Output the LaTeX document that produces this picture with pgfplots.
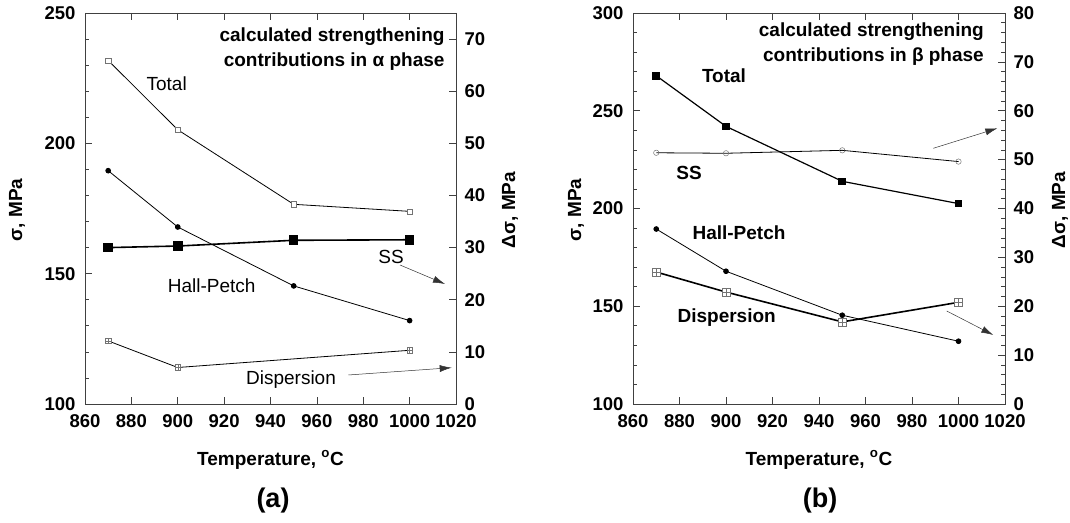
\documentclass[border=0pt]{standalone}
\usepackage{fontspec}
\setmainfont{Liberation Sans}
\usepackage{pgfplots}
\pgfplotsset{compat=1.18}
\usetikzlibrary{arrows.meta}
\pgfdeclareplotmark{boxplus}{%
  \pgfpathrectangle{\pgfqpoint{-\pgfplotmarksize}{-\pgfplotmarksize}}{\pgfqpoint{2\pgfplotmarksize}{2\pgfplotmarksize}}%
  \pgfusepathqfillstroke
  \pgfpathmoveto{\pgfqpoint{-\pgfplotmarksize}{0pt}}\pgfpathlineto{\pgfqpoint{\pgfplotmarksize}{0pt}}%
  \pgfpathmoveto{\pgfqpoint{0pt}{-\pgfplotmarksize}}\pgfpathlineto{\pgfqpoint{0pt}{\pgfplotmarksize}}%
  \pgfusepathqstroke}
\newcommand{\tfont}{\bfseries\fontsize{18.5bp}{18.5bp}\selectfont}
\newcommand{\lfont}{\fontsize{19bp}{25bp}\selectfont}
\pgfplotsset{
  base/.style={
    scale only axis, width=371bp, height=391bp,
    xmin=860, xmax=1020,
    xtick={860,880,...,1020},
    tick align=inside,
    major tick length=7bp, minor tick length=4bp,
    tick style={black!75, line width=0.6bp},
    axis line style={black!75, line width=0.8bp},
    /pgf/number format/assume math mode=true,
    /pgf/number format/1000 sep={},
    tick label style={font=\tfont},
    xticklabel style={yshift=-7bp},
    clip=false,
  },
  leftax/.style={yticklabel style={xshift=-6bp}},
  rightax/.style={yticklabel style={xshift=5bp}},
  openmk/.style={mark options={draw=black!55, fill=white, line width=0.5bp}},
}
\begin{document}
\begin{tikzpicture}[x=1bp,y=1bp]
\useasboundingbox (0,0) rectangle (1070,523);
% ---------------- panel (a) ----------------
\begin{axis}[base, leftax, at={(85bp,119bp)}, anchor=south west,
  ymin=100, ymax=250, ytick={100,150,200,250}, minor y tick num=4,
  ytick pos=left, xtick pos=both]
\addplot[black, line width=0.8bp, mark=square*, mark size=2.6bp, openmk] coordinates {(870,231.8) (900,205.2) (950,176.6) (1000,173.9)};
\addplot[black, line width=0.8bp, mark=*, mark size=2.4bp] coordinates {(870,189.5) (900,167.9) (950,145.3) (1000,132.0)};
\end{axis}
\begin{axis}[base, rightax, at={(85bp,119bp)}, anchor=south west,
  ymin=0, ymax=75, ytick={0,10,...,70},
  axis y line*=right, axis x line=none]
\addplot[black, line width=1.6bp, mark=square*, mark size=4bp] coordinates {(870,30.0) (900,30.3) (950,31.4) (1000,31.5)};
\addplot[black, line width=0.8bp, mark=boxplus, mark size=2.8bp, openmk] coordinates {(870,12.1) (900,7.0) (1000,10.3)};
\end{axis}
% ---------------- panel (b) ----------------
\begin{axis}[base, leftax, at={(633bp,119bp)}, anchor=south west, width=372bp,
  ymin=100, ymax=300, ytick={100,150,...,300}, minor y tick num=4,
  ytick pos=left, xtick pos=both]
\addplot[black, line width=1.2bp, mark=square*, mark size=3.2bp] coordinates {(870,267.9) (900,242.0) (950,213.9) (1000,202.5)};
\addplot[black, line width=0.8bp, mark=*, mark size=2.4bp] coordinates {(870,189.5) (900,167.9) (950,145.4) (1000,132.1)};
\end{axis}
\begin{axis}[base, rightax, at={(633bp,119bp)}, anchor=south west, width=372bp,
  ymin=0, ymax=80, ytick={0,10,...,80}, minor y tick num=4,
  axis y line*=right, axis x line=none]
\addplot[black, line width=0.8bp, mark=o, mark size=2.7bp, openmk] coordinates {(870,51.4) (900,51.3) (950,51.9) (1000,49.6)};
\addplot[black, line width=1.6bp, mark=boxplus, mark size=4bp, openmk] coordinates {(870,27.0) (900,22.9) (950,16.8) (1000,20.8)};
\end{axis}
% ---------------- annotations (a) ----------------
\node[font=\lfont\bfseries, align=right, anchor=east] at (448,474) {calculated strengthening\\contributions in α phase};
\node[font=\lfont] at (166.7,439.7) {Total};
\node[font=\lfont] at (211.7,237) {Hall-Petch};
\node[font=\lfont] at (391,266) {SS};
\node[font=\lfont] at (291,143) {Dispersion};
\draw[black!80, line width=0.5bp, -{Latex[length=12bp,width=7bp]}] (400,258) -- (445,239);
\draw[black!80, line width=0.5bp, -{Latex[length=12bp,width=7bp]}] (348.3,148) -- (451.7,155.3);
% ---------------- annotations (b) ----------------
\node[font=\lfont\bfseries, align=right, anchor=east] at (987.3,478.5) {calculated strengthening\\contributions in β phase};
\node[font=\lfont\bfseries] at (724,447) {Total};
\node[font=\lfont\bfseries] at (689,349.7) {SS};
\node[font=\lfont\bfseries] at (739,290.7) {Hall-Petch};
\node[font=\lfont\bfseries] at (726.7,205.7) {Dispersion};
\draw[black!80, line width=0.5bp, -{Latex[length=12bp,width=7bp]}] (933.3,374.7) -- (997.3,394.7);
\draw[black!80, line width=0.5bp, -{Latex[length=12bp,width=7bp]}] (946.7,212) -- (993.3,188);
% ---------------- axis titles ----------------
\node[font=\lfont\bfseries, rotate=90] at (17,313) {σ, MPa};
\node[font=\lfont\bfseries, rotate=90] at (510,313) {Δσ, MPa};
\node[font=\lfont\bfseries, rotate=90] at (576,313) {σ, MPa};
\node[font=\lfont\bfseries, rotate=90] at (1060,313) {Δσ, MPa};
\node[font=\lfont\bfseries] at (270.5,63) {Temperature, \textsuperscript{o}C};
\node[font=\lfont\bfseries] at (819,63) {Temperature, \textsuperscript{o}C};
\node[font=\bfseries\fontsize{27bp}{30bp}\selectfont] at (273,22) {(a)};
\node[font=\bfseries\fontsize{27bp}{30bp}\selectfont] at (820,22) {(b)};
\end{tikzpicture}
\end{document}
